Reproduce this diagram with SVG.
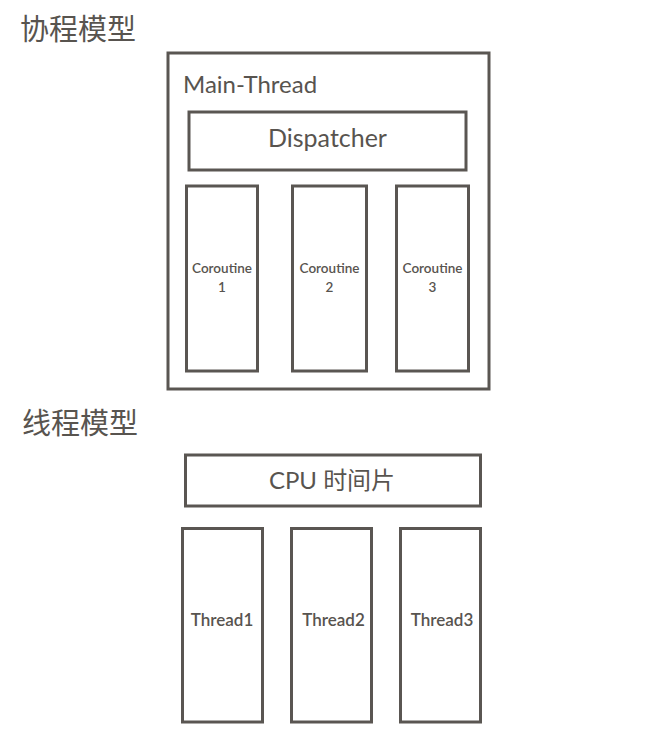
<svg xmlns="http://www.w3.org/2000/svg" width="653" height="745" viewBox="0 0 653 745">
<style>
.box{fill:#fff;stroke:#5a5652;stroke-width:3}
text{font-family:Lato,"Noto Sans","Noto Sans CJK SC",sans-serif;fill:#58544f}
.cjk{font-family:"Noto Sans CJK SC",sans-serif}
.mid{text-anchor:middle}
.sm{font-size:13.5px;font-weight:600}
.th{font-size:17px;font-weight:600}
</style>
<rect width="653" height="745" fill="#fff"/>
<text class="cjk" x="20" y="40" font-size="29">协程模型</text>
<text class="cjk" x="22" y="434" font-size="29">线程模型</text>
<g id="main-thread">
<rect class="box" x="168" y="53" width="321" height="336"/>
<text x="183" y="93" font-size="24">Main-Thread</text>
</g>
<g id="dispatcher">
<rect class="box" x="189" y="112" width="277" height="58"/>
<text class="mid" x="327.5" y="147" font-size="25">Dispatcher</text>
</g>
<g id="coroutine1">
<rect class="box" x="186.5" y="186" width="71" height="185"/>
<text class="mid sm" x="222" y="273">Coroutine</text>
<text class="mid sm" x="222" y="292">1</text>
</g>
<g id="coroutine2">
<rect class="box" x="292.5" y="186" width="74" height="185"/>
<text class="mid sm" x="329.5" y="273">Coroutine</text>
<text class="mid sm" x="329.5" y="292">2</text>
</g>
<g id="coroutine3">
<rect class="box" x="396.5" y="186" width="72" height="185"/>
<text class="mid sm" x="432.5" y="273">Coroutine</text>
<text class="mid sm" x="432.5" y="292">3</text>
</g>
<g id="cpu">
<rect class="box" x="185.5" y="455" width="295" height="51"/>
<text class="mid" x="332" y="489" font-size="24">CPU <tspan class="cjk">时间片</tspan></text>
</g>
<g id="thread1">
<rect class="box" x="182.5" y="528.5" width="80" height="193.5"/>
<text class="mid th" x="222" y="626">Thread1</text>
</g>
<g id="thread2">
<rect class="box" x="291.5" y="528.5" width="80" height="193.5"/>
<text class="mid th" x="333.5" y="626">Thread2</text>
</g>
<g id="thread3">
<rect class="box" x="400.5" y="528.5" width="80" height="193.5"/>
<text class="mid th" x="442" y="626">Thread3</text>
</g>
<g id="connectors"/>
</svg>
